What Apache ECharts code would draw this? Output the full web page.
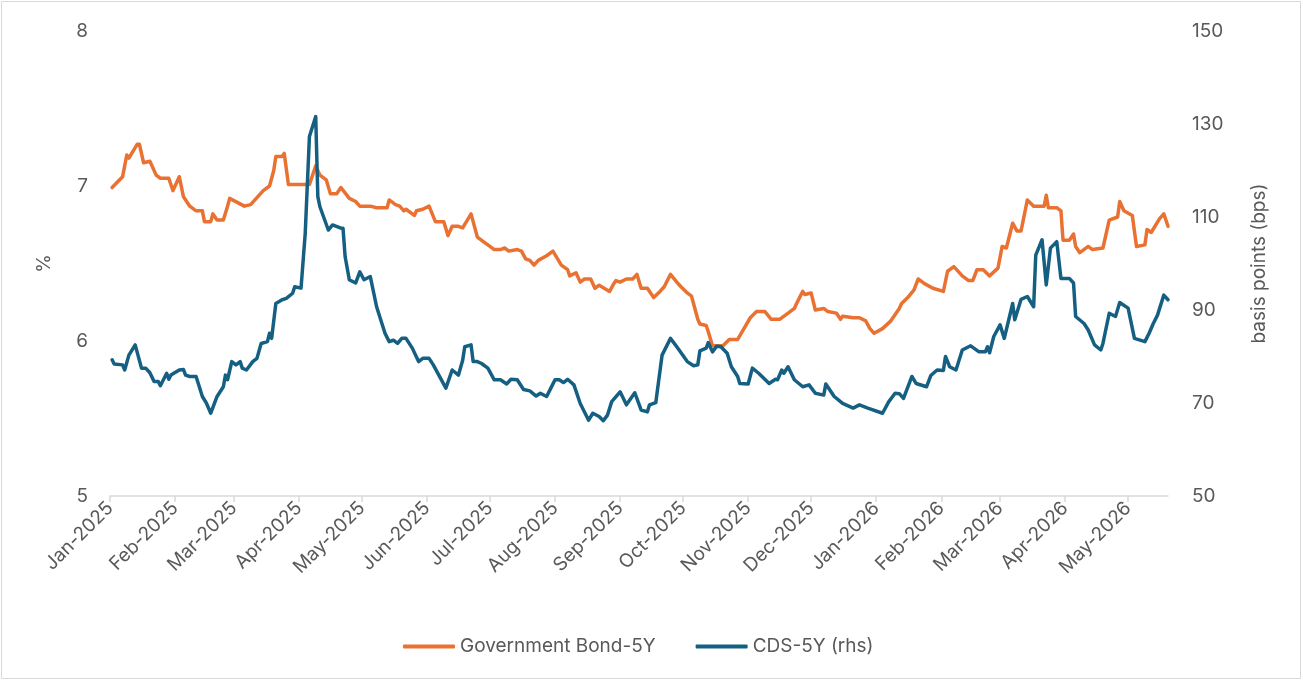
<!DOCTYPE html>
<html>
<head>
<meta charset="utf-8">
<script src="https://cdn.jsdelivr.net/npm/echarts@6/dist/echarts.min.js"></script>
<style>
html,body{margin:0;padding:0;background:#fff;}
#chart{width:1303px;height:681px;}
</style>
</head>
<body>
<div id="chart"></div>
<script>
const monthNames = ['Jan','Feb','Mar','Apr','May','Jun','Jul','Aug','Sep','Oct','Nov','Dec'];
const seriesNames = ['Government Bond-5Y', 'CDS-5Y (rhs)'];
const leftAxisName = '%';
const rightAxisName = 'basis points (bps)';

const bondDates = ['2025-01-02','2025-01-07','2025-01-09','2025-01-10','2025-01-14','2025-01-15','2025-01-17','2025-01-20','2025-01-23','2025-01-25','2025-01-29','2025-01-31','2025-02-03','2025-02-05','2025-02-08','2025-02-11','2025-02-14','2025-02-15','2025-02-18','2025-02-19','2025-02-21','2025-02-24','2025-02-26','2025-02-27','2025-03-06','2025-03-09','2025-03-15','2025-03-18','2025-03-20','2025-03-21','2025-03-24','2025-03-25','2025-03-27','2025-04-06','2025-04-09','2025-04-11','2025-04-14','2025-04-16','2025-04-19','2025-04-21','2025-04-25','2025-04-28','2025-04-30','2025-05-05','2025-05-08','2025-05-13','2025-05-14','2025-05-17','2025-05-19','2025-05-21','2025-05-22','2025-05-26','2025-05-27','2025-05-30','2025-06-02','2025-06-05','2025-06-09','2025-06-11','2025-06-13','2025-06-16','2025-06-18','2025-06-22','2025-06-25','2025-06-28','2025-07-01','2025-07-03','2025-07-06','2025-07-08','2025-07-10','2025-07-14','2025-07-16','2025-07-18','2025-07-20','2025-07-22','2025-07-24','2025-07-28','2025-07-31','2025-08-04','2025-08-07','2025-08-08','2025-08-11','2025-08-13','2025-08-15','2025-08-18','2025-08-20','2025-08-22','2025-08-27','2025-08-29','2025-08-30','2025-09-01','2025-09-04','2025-09-07','2025-09-09','2025-09-11','2025-09-14','2025-09-17','2025-09-20','2025-09-22','2025-09-25','2025-09-28','2025-09-30','2025-10-03','2025-10-05','2025-10-08','2025-10-09','2025-10-12','2025-10-13','2025-10-15','2025-10-20','2025-10-23','2025-10-27','2025-10-30','2025-11-02','2025-11-05','2025-11-09','2025-11-12','2025-11-16','2025-11-21','2025-11-23','2025-11-24','2025-11-27','2025-11-28','2025-12-01','2025-12-03','2025-12-07','2025-12-09','2025-12-13','2025-12-15','2025-12-16','2025-12-21','2025-12-24','2025-12-27','2025-12-29','2025-12-31','2026-01-04','2026-01-08','2026-01-12','2026-01-13','2026-01-16','2026-01-19','2026-01-21','2026-01-24','2026-01-28','2026-02-02','2026-02-04','2026-02-07','2026-02-11','2026-02-14','2026-02-16','2026-02-18','2026-02-21','2026-02-24','2026-02-28','2026-03-02','2026-03-04','2026-03-07','2026-03-09','2026-03-11','2026-03-14','2026-03-17','2026-03-22','2026-03-23','2026-03-24','2026-03-28','2026-03-30','2026-03-31','2026-04-03','2026-04-05','2026-04-06','2026-04-08','2026-04-12','2026-04-14','2026-04-19','2026-04-22','2026-04-26','2026-04-27','2026-04-29','2026-05-03','2026-05-05','2026-05-09','2026-05-10','2026-05-12','2026-05-16','2026-05-18','2026-05-20'];
const bondValues = [6.99,7.06,7.20,7.18,7.27,7.27,7.15,7.16,7.07,7.05,7.05,6.97,7.06,6.93,6.87,6.84,6.84,6.77,6.77,6.82,6.78,6.78,6.87,6.92,6.87,6.88,6.97,7.00,7.10,7.19,7.19,7.21,7.01,7.01,7.13,7.07,7.04,6.95,6.95,6.99,6.92,6.90,6.87,6.87,6.86,6.86,6.91,6.88,6.87,6.84,6.85,6.81,6.84,6.85,6.87,6.77,6.77,6.68,6.74,6.74,6.73,6.82,6.67,6.64,6.61,6.59,6.59,6.60,6.58,6.59,6.58,6.53,6.52,6.49,6.52,6.55,6.58,6.49,6.46,6.42,6.44,6.38,6.40,6.40,6.34,6.36,6.32,6.37,6.39,6.38,6.40,6.40,6.43,6.34,6.34,6.28,6.32,6.35,6.43,6.38,6.35,6.31,6.29,6.14,6.11,6.10,6.06,5.97,5.97,6.01,6.01,6.08,6.15,6.19,6.19,6.14,6.14,6.19,6.21,6.24,6.32,6.30,6.31,6.20,6.21,6.19,6.18,6.14,6.16,6.15,6.15,6.13,6.08,6.05,6.08,6.13,6.21,6.24,6.28,6.33,6.40,6.37,6.34,6.32,6.45,6.48,6.42,6.39,6.39,6.46,6.46,6.42,6.47,6.61,6.60,6.76,6.71,6.71,6.91,6.87,6.87,6.94,6.86,6.86,6.84,6.65,6.65,6.69,6.61,6.57,6.61,6.59,6.60,6.78,6.80,6.90,6.84,6.81,6.61,6.62,6.72,6.70,6.79,6.82,6.74];

const cdsDates = ['2025-01-02','2025-01-03','2025-01-07','2025-01-08','2025-01-10','2025-01-13','2025-01-16','2025-01-18','2025-01-20','2025-01-22','2025-01-24','2025-01-25','2025-01-28','2025-01-29','2025-01-30','2025-02-03','2025-02-05','2025-02-06','2025-02-08','2025-02-11','2025-02-14','2025-02-16','2025-02-18','2025-02-21','2025-02-24','2025-02-25','2025-02-26','2025-02-28','2025-03-02','2025-03-04','2025-03-05','2025-03-07','2025-03-10','2025-03-12','2025-03-14','2025-03-17','2025-03-18','2025-03-19','2025-03-21','2025-03-24','2025-03-26','2025-03-29','2025-03-30','2025-04-02','2025-04-04','2025-04-06','2025-04-09','2025-04-10','2025-04-11','2025-04-15','2025-04-17','2025-04-21','2025-04-22','2025-04-23','2025-04-25','2025-04-28','2025-04-30','2025-05-02','2025-05-05','2025-05-08','2025-05-12','2025-05-14','2025-05-16','2025-05-18','2025-05-20','2025-05-22','2025-05-25','2025-05-28','2025-05-30','2025-06-02','2025-06-04','2025-06-10','2025-06-13','2025-06-16','2025-06-18','2025-06-19','2025-06-22','2025-06-23','2025-06-25','2025-06-27','2025-06-30','2025-07-03','2025-07-06','2025-07-09','2025-07-11','2025-07-14','2025-07-17','2025-07-20','2025-07-23','2025-07-25','2025-07-28','2025-07-30','2025-08-01','2025-08-03','2025-08-05','2025-08-07','2025-08-10','2025-08-13','2025-08-17','2025-08-19','2025-08-22','2025-08-24','2025-08-26','2025-08-28','2025-09-01','2025-09-04','2025-09-08','2025-09-11','2025-09-14','2025-09-15','2025-09-18','2025-09-21','2025-09-25','2025-09-28','2025-10-03','2025-10-06','2025-10-08','2025-10-09','2025-10-12','2025-10-13','2025-10-15','2025-10-17','2025-10-19','2025-10-22','2025-10-24','2025-10-27','2025-10-28','2025-11-01','2025-11-03','2025-11-06','2025-11-11','2025-11-14','2025-11-15','2025-11-17','2025-11-18','2025-11-20','2025-11-23','2025-11-27','2025-11-30','2025-12-03','2025-12-07','2025-12-08','2025-12-12','2025-12-16','2025-12-21','2025-12-24','2025-12-28','2026-01-04','2026-01-07','2026-01-10','2026-01-12','2026-01-14','2026-01-18','2026-01-20','2026-01-25','2026-01-27','2026-01-30','2026-02-02','2026-02-03','2026-02-05','2026-02-08','2026-02-11','2026-02-15','2026-02-19','2026-02-22','2026-02-23','2026-02-24','2026-02-26','2026-03-01','2026-03-03','2026-03-07','2026-03-08','2026-03-11','2026-03-14','2026-03-17','2026-03-18','2026-03-21','2026-03-23','2026-03-25','2026-03-28','2026-03-30','2026-04-03','2026-04-05','2026-04-06','2026-04-10','2026-04-12','2026-04-15','2026-04-18','2026-04-19','2026-04-22','2026-04-25','2026-04-27','2026-05-01','2026-05-04','2026-05-09','2026-05-11','2026-05-13','2026-05-15','2026-05-18','2026-05-20'];
const cdsValues = [79.3,78.4,78.2,77.1,80.3,82.5,77.5,77.5,76.5,74.6,74.6,73.7,76.4,75.1,76.0,77.1,77.2,76.0,75.7,75.7,71.4,69.9,67.8,71.4,73.5,76.0,75.0,78.9,78.2,78.9,77.5,77.1,78.9,79.6,82.8,83.2,85.0,83.9,91.4,92.2,92.5,93.6,95.0,94.7,106.5,127.3,131.6,114.4,112.2,107.2,108.3,107.6,107.6,101.5,96.5,95.8,98.2,96.5,97.2,90.7,85.0,83.2,83.5,82.8,83.9,83.9,81.8,78.9,79.6,79.6,78.2,73.2,77.1,76.0,79.2,82.1,82.5,78.9,78.9,78.5,77.5,75.0,75.0,74.1,75.1,75.0,72.9,72.6,71.5,72.1,71.4,73.2,75.0,75.0,74.4,75.1,73.9,69.9,66.3,67.8,67.1,66.2,67.4,70.3,72.4,69.6,72.2,68.5,68.1,69.6,70.1,80.3,83.9,82.1,78.9,78.0,78.2,81.2,81.8,83.0,81.0,82.2,82.1,80.7,77.8,75.7,74.2,74.1,77.5,76.4,74.2,75.1,75.0,77.1,76.4,77.8,75.0,73.5,73.9,72.1,71.7,74.1,71.4,69.9,68.9,69.6,68.9,67.8,70.3,72.1,72.0,71.0,75.7,74.2,73.5,75.9,77.1,77.0,80.0,77.8,77.1,81.4,82.3,81.0,81.0,82.1,80.8,84.3,86.8,83.9,91.4,87.9,92.3,92.9,90.7,101.8,105.1,95.4,103.3,104.7,96.8,96.8,95.8,88.6,87.1,85.7,82.5,81.4,82.8,89.3,88.6,91.6,90.4,83.9,83.2,85.0,87.1,88.9,93.2,92.2];

const xMin = '2025-01-01';
const xMax = '2026-05-20';

const textColor = '#595959';
const fontFamily = 'Inter, "Liberation Sans", sans-serif';

const chart = echarts.init(document.getElementById('chart'), null, {renderer: 'canvas'});
const DAY = 86400000;

chart.setOption({
  animation: false,
  backgroundColor: '#ffffff',
  textStyle: {fontFamily: fontFamily, color: textColor},
  graphic: [{
    type: 'rect', silent: true, z: -1,
    shape: {x: 1.5, y: 1.5, width: 1299, height: 677},
    style: {fill: 'none', stroke: '#d9d9d9', lineWidth: 1}
  }],
  grid: {left: 110, right: 135, top: 31, bottom: 185, containLabel: false},
  legend: {
    left: 398, top: 632,
    itemWidth: 52, itemHeight: 4, itemGap: 40,
    icon: 'roundRect',
    textStyle: {fontSize: 19, color: textColor, fontFamily: fontFamily},
    data: seriesNames
  },
  xAxis: {
    type: 'time',
    min: xMin, max: xMax,
    splitNumber: 17,
    minInterval: 28 * DAY,
    maxInterval: 31 * DAY,
    axisLine: {show: true, lineStyle: {color: '#d9d9d9', width: 1.5}},
    axisTick: {show: true, length: 6, lineStyle: {color: '#d9d9d9', width: 1.5}},
    splitLine: {show: false},
    axisLabel: {
      rotate: 45, margin: 9, fontSize: 19, color: textColor, fontFamily: fontFamily,
      showMaxLabel: false,
      formatter: function (value) {
        const d = new Date(value);
        return monthNames[d.getMonth()] + '-' + d.getFullYear();
      }
    }
  },
  yAxis: [{
    type: 'value', position: 'left',
    min: 5, max: 8, interval: 1,
    name: leftAxisName, nameLocation: 'middle', nameGap: 56, nameRotate: 90,
    nameTextStyle: {fontSize: 19, color: textColor, fontFamily: fontFamily},
    axisLine: {show: false}, axisTick: {show: false}, splitLine: {show: false},
    axisLabel: {fontSize: 19, color: textColor, margin: 22, fontFamily: fontFamily}
  }, {
    type: 'value', position: 'right',
    min: 50, max: 150, interval: 20,
    name: rightAxisName, nameLocation: 'middle', nameGap: 82, nameRotate: 90,
    nameTextStyle: {fontSize: 19, color: textColor, fontFamily: fontFamily},
    axisLine: {show: false}, axisTick: {show: false}, splitLine: {show: false},
    axisLabel: {fontSize: 19, color: textColor, margin: 24, fontFamily: fontFamily}
  }],
  series: [{
    name: seriesNames[0], type: 'line', yAxisIndex: 0,
    showSymbol: false, symbol: 'none',
    color: '#E97132',
    lineStyle: {width: 3.5, color: '#E97132', cap: 'round', join: 'round'},
    data: bondDates.map((d, i) => [d, bondValues[i]]),
    z: 2
  }, {
    name: seriesNames[1], type: 'line', yAxisIndex: 1,
    showSymbol: false, symbol: 'none',
    color: '#156082',
    lineStyle: {width: 3.5, color: '#156082', cap: 'round', join: 'round'},
    data: cdsDates.map((d, i) => [d, cdsValues[i]]),
    z: 3
  }]
});
</script>
</body>
</html>
